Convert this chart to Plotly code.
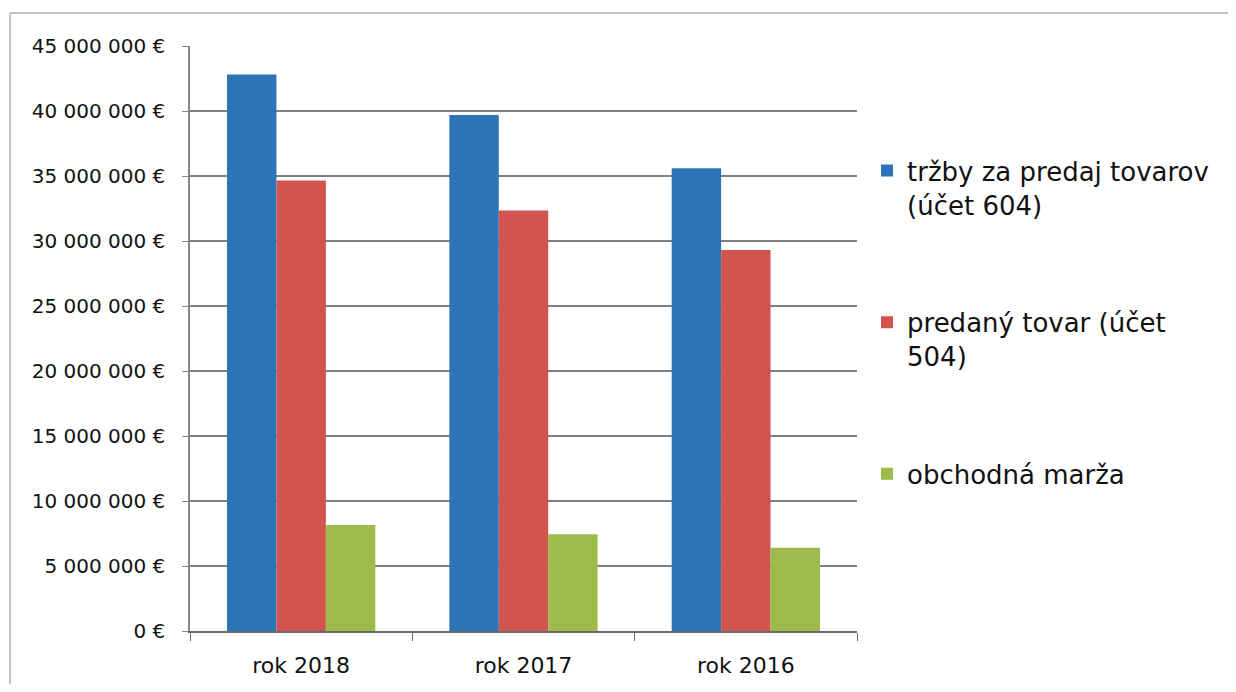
import plotly.graph_objects as go

categories = ["rok 2018", "rok 2017", "rok 2016"]
trzby = [42_800_000, 39_700_000, 35_600_000]
predany = [34_650_000, 32_350_000, 29_300_000]
marza = [8_150_000, 7_450_000, 6_400_000]

series_names = [
    "tržby za predaj tovarov<br>(účet 604)",
    "predaný tovar (účet<br>504)",
    "obchodná marža",
]
colors = ["#2C74B5", "#D2544F", "#9CBB4A"]

tick_vals = [0, 5_000_000, 10_000_000, 15_000_000, 20_000_000,
             25_000_000, 30_000_000, 35_000_000, 40_000_000, 45_000_000]
tick_text = ["0 €", "5 000 000 €", "10 000 000 €", "15 000 000 €", "20 000 000 €",
             "25 000 000 €", "30 000 000 €", "35 000 000 €", "40 000 000 €", "45 000 000 €"]

FONT = "DejaVu Sans"
TXT = "#111111"

fig = go.Figure()
for i, (vals, name, col) in enumerate(zip([trzby, predany, marza], series_names, colors)):
    fig.add_trace(go.Bar(
        x=categories, y=vals, name=name, marker=dict(color=col, line=dict(width=0)),
        legendgroup=f"g{i}",
    ))

# page body has an 8px margin: figure is sized to fit the 1236x692 window exactly
W, H = 1220, 676
L, T = 182, 38
PW, PH = 667, 585
fig.update_layout(
    width=W, height=H,
    margin=dict(l=L, r=W - L - PW, t=T, b=H - T - PH, autoexpand=False),
    paper_bgcolor="white", plot_bgcolor="white",
    barmode="group", bargap=0.333, bargroupgap=0,
    font=dict(family=FONT, color=TXT),
    showlegend=True,
    legend=dict(
        x=1.015, y=0.827, xanchor="left", yanchor="top",
        font=dict(family=FONT, size=26, color=TXT),
        tracegroupgap=81, valign="top", itemwidth=30,
        bgcolor="rgba(0,0,0,0)",
    ),
)
fig.update_yaxes(
    range=[0, 45_000_000], tickvals=tick_vals, ticktext=tick_text,
    showgrid=True, gridcolor="#808080", gridwidth=1.7,
    showline=True, linecolor="#858585", linewidth=1.5,
    ticks="outside", ticklen=6, tickcolor="#858585",
    ticklabelstandoff=13, automargin=False,
    tickfont=dict(family=FONT, size=20, color=TXT),
    zeroline=False,
)
fig.update_xaxes(
    showline=True, linecolor="#6a6a6a", linewidth=1.5,
    ticks="outside", ticklen=8, tickcolor="#6a6a6a", tickson="boundaries",
    ticklabelstandoff=14, automargin=False,
    tickfont=dict(family=FONT, size=22, color=TXT),
)

# outer chart frame (left and top edges; the rest runs off the page)
frame = dict(color="#b0b0b0", width=1.5)
fig.add_shape(type="line", xref="paper", yref="paper",
              x0=(2 - L) / PW, x1=(2 - L) / PW, y0=-0.2, y1=1 + (T - 5) / PH, line=frame)
fig.add_shape(type="line", xref="paper", yref="paper",
              x0=(2 - L) / PW, x1=(W + 40 - L) / PW, y0=1 + (T - 5) / PH, y1=1 + (T - 5) / PH,
              line=frame)

fig.write_html("out.html")
